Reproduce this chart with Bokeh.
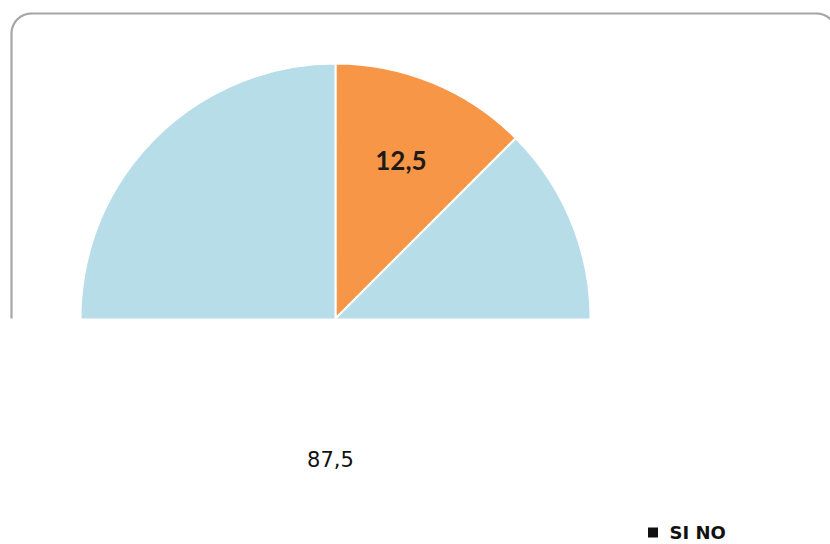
import math
from bokeh.plotting import figure
from bokeh.models import ColumnDataSource
from bokeh.core.properties import value
from bokeh.embed import file_html
from bokeh.resources import INLINE

# Survey answers (percent)
categories = ["SI", "NO"]
shares = [12.5, 87.5]
labels = ["12,5", "87,5"]
slice_colors = ["#F79646", "#B7DDE8"]

W, H = 830, 544

p = figure(width=W, height=H, x_range=(0, W), y_range=(0, H),
           output_backend="svg", toolbar_location=None, min_border=0)
p.axis.visible = False
p.grid.visible = False
p.outline_line_color = None
p.background_fill_color = "white"
p.border_fill_color = "white"

# pie geometry (screen y measured from the top, converted to data y)
cx, cy_top, r = 335, 318, 255
cy = H - cy_top

# slices run clockwise starting at 12 o'clock
total = sum(shares)
starts, ends = [], []
acc = 0.0
for s in shares:
    a0 = math.pi / 2 - 2 * math.pi * acc / total
    acc += s
    a1 = math.pi / 2 - 2 * math.pi * acc / total
    starts.append(a0)
    ends.append(a1)

src = ColumnDataSource(dict(cat=categories, val=shares, start=starts, end=ends, color=slice_colors))
p.wedge(x=cx, y=cy, radius=r, start_angle="start", end_angle="end", direction="clock",
        fill_color="color", line_color="white", line_width=2, source=src)

# lower half of the chart area is blank
p.quad(left=0, right=W, bottom=0, top=cy, fill_color="white", line_color=None)

# rounded frame, open at the bottom
fx0, fy0, fx1, rad = 11, H - 13, 836, 20
xs, ys = [fx0, fx0], [cy, fy0 - rad]
for k in range(0, 21):
    t = math.pi - (math.pi / 2) * k / 20
    xs.append(fx0 + rad + rad * math.cos(t))
    ys.append(fy0 - rad + rad * math.sin(t))
xs.append(fx1 - rad)
ys.append(fy0)
for k in range(0, 21):
    t = math.pi / 2 - (math.pi / 2) * k / 20
    xs.append(fx1 - rad + rad * math.cos(t))
    ys.append(fy0 - rad + rad * math.sin(t))
p.line(xs, ys, line_color="#A6A6A6", line_width=2.2)

# inside label for the small slice, placed along its mid-angle
mid = (starts[0] + ends[0]) / 2
lx = cx + 0.67 * r * math.cos(mid)
ly = cy + 0.67 * r * math.sin(mid)
p.text(x=[lx], y=[ly], text=[labels[0]], text_font=value("Lato"), text_font_style="bold",
       text_font_size="26px", text_color="#1E1A18", text_align="center", text_baseline="middle")

# label for the large slice
p.text(x=[330], y=[H - 458], text=[labels[1]], text_font=value("DejaVu Sans"),
       text_font_size="21px", text_color="#111111", text_align="center", text_baseline="middle")

# legend line
p.scatter(x=[652.5], y=[H - 532], marker="square", size=10, fill_color="#111111", line_color=None)
p.text(x=[669], y=[H - 532], text=[" ".join(categories)], text_font=value("DejaVu Sans"),
       text_font_style="bold", text_font_size="18px", text_color="#111111",
       text_align="left", text_baseline="middle")

open("out.html", "w").write(file_html(p, INLINE))
